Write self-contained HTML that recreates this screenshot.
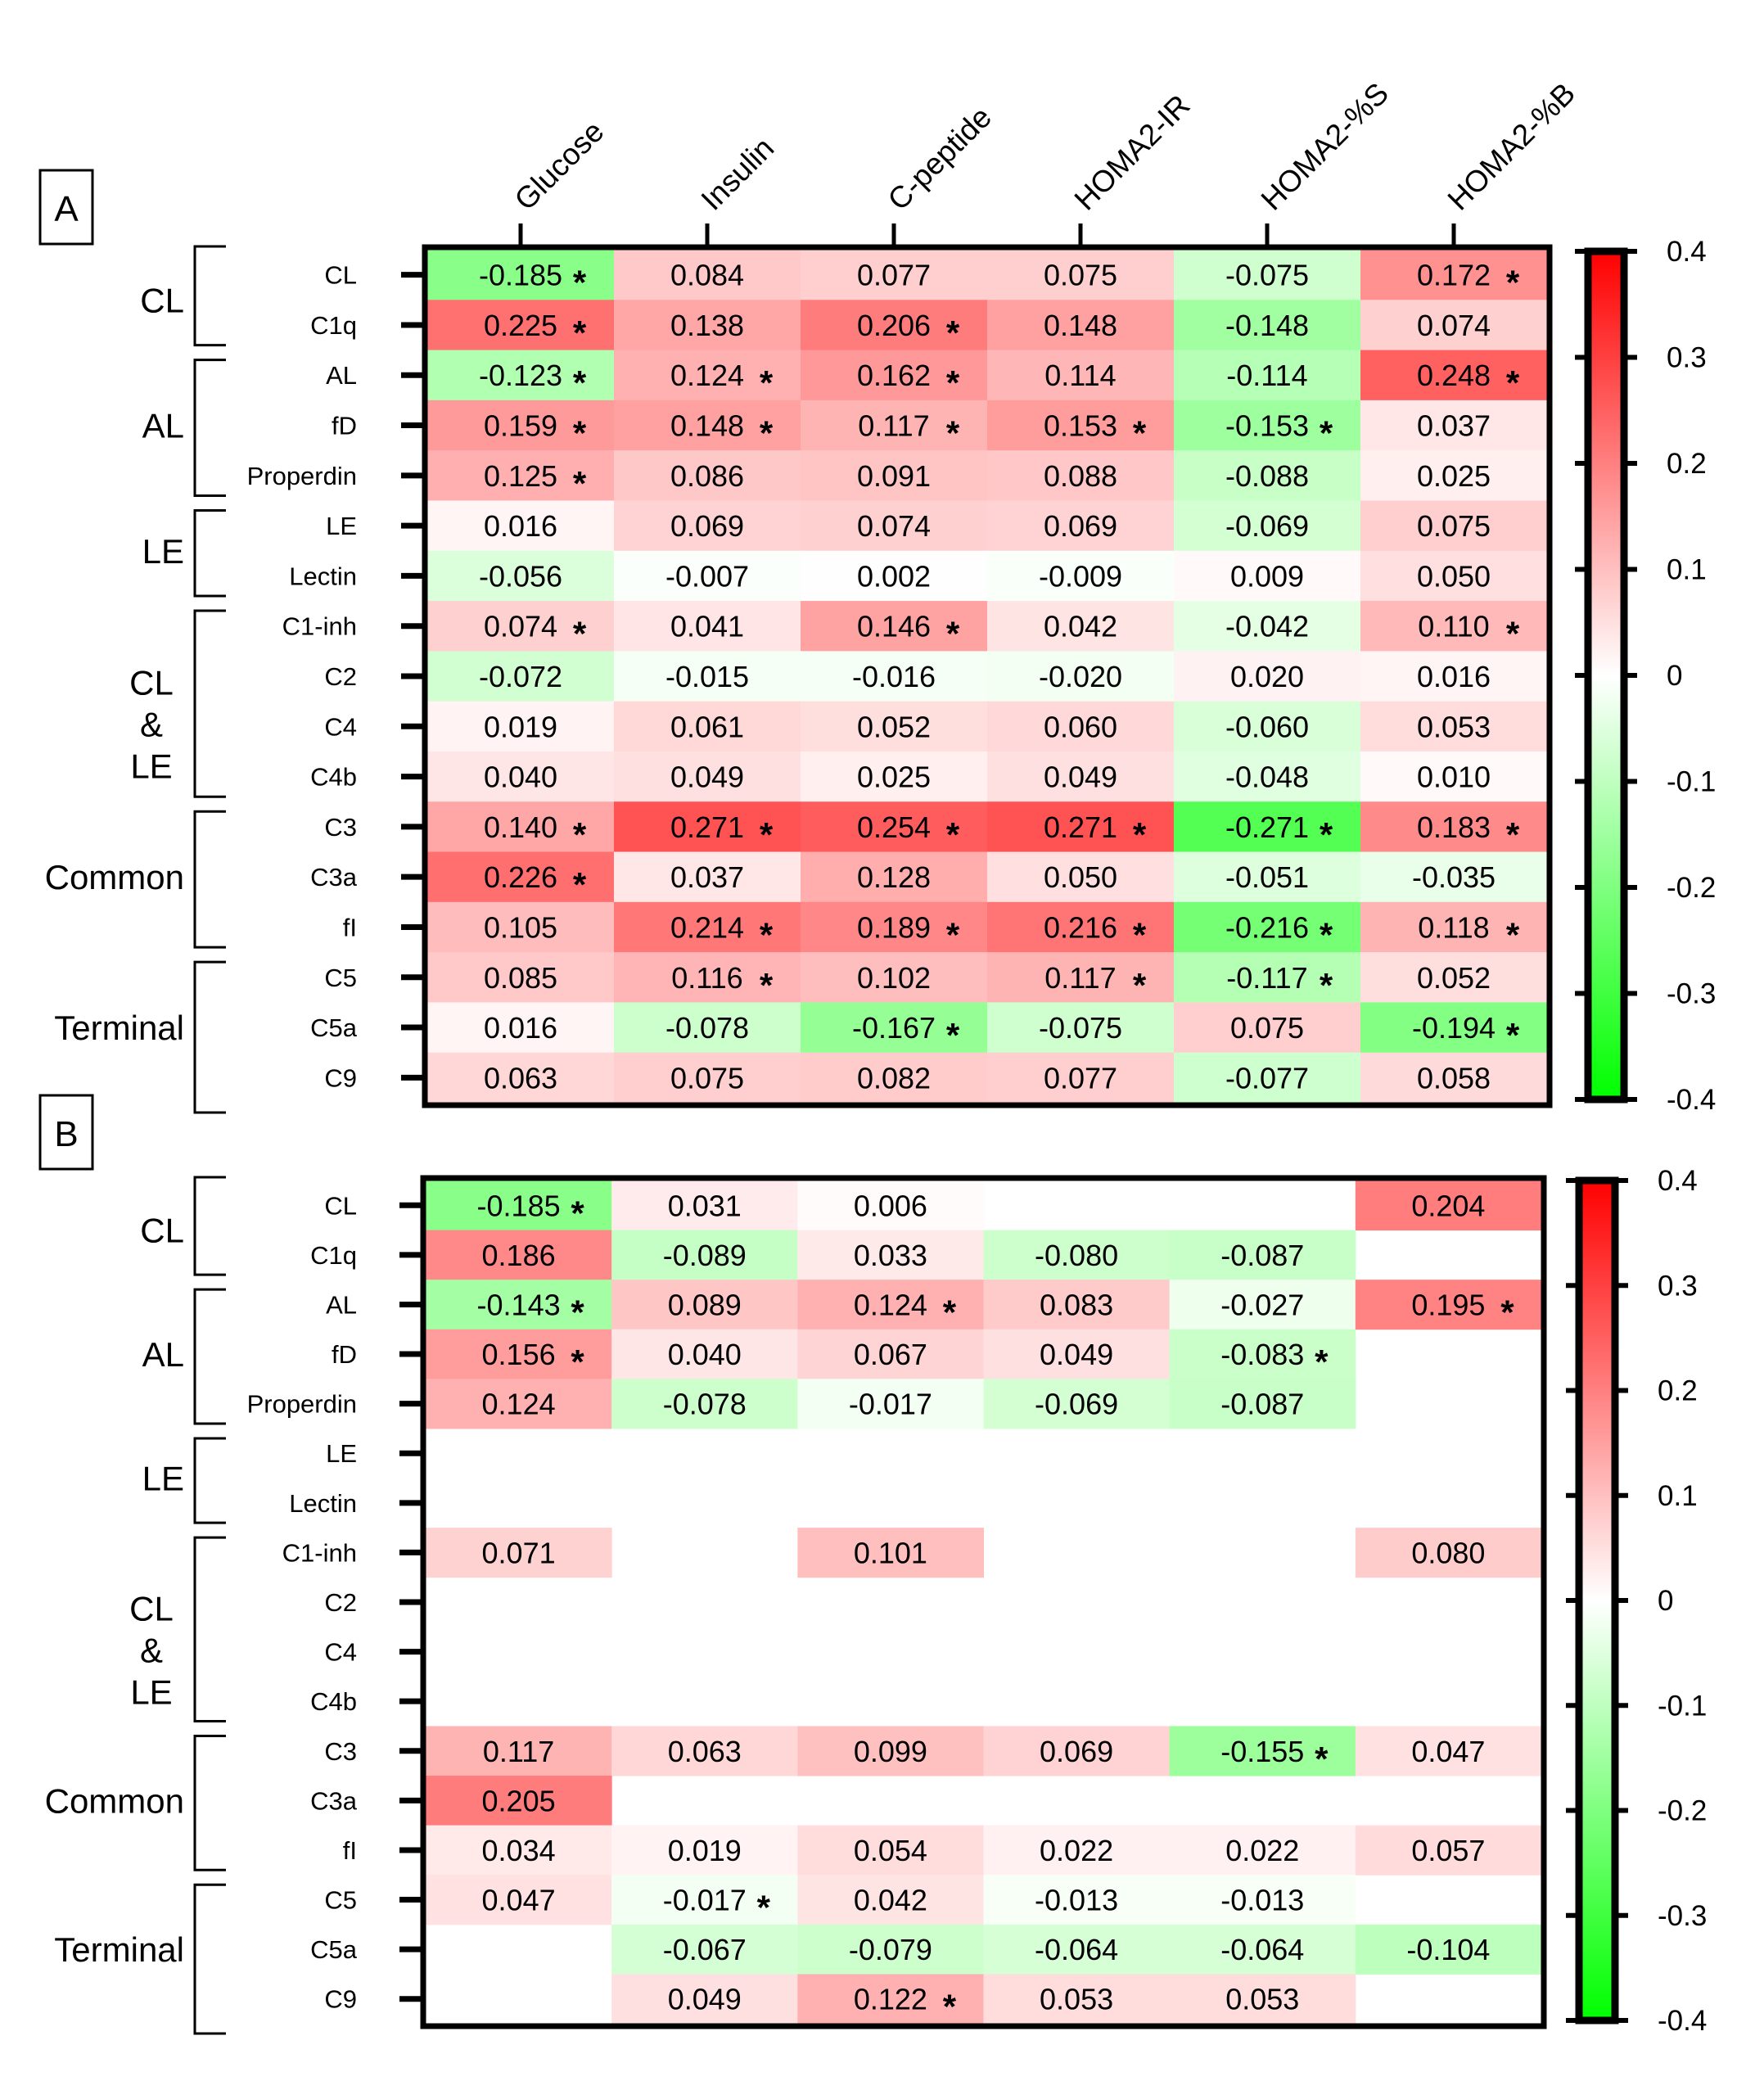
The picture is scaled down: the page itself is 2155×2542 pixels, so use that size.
<!DOCTYPE html>
<html><head><meta charset="utf-8"><style>
html,body{margin:0;padding:0;background:#fff}
svg{display:block;font-family:"Liberation Sans",Arial,sans-serif}
</style></head><body>
<svg id="chart" width="2155" height="2542" viewBox="0 0 2155 2542" xmlns="http://www.w3.org/2000/svg"></svg>
<script>
const columns = ["Glucose","Insulin","C-peptide","HOMA2-IR","HOMA2-%S","HOMA2-%B"];
const rowLabels = ["CL","C1q","AL","fD","Properdin","LE","Lectin","C1-inh","C2","C4","C4b","C3","C3a","fI","C5","C5a","C9"];
const groupNames = [["CL"],["AL"],["LE"],["CL","&","LE"],["Common"],["Terminal"]];
const groupStarts = [0,2,5,7,11,14];
const groupEnds = [1,4,6,10,13,16];
const colorTicks = [0.4,0.3,0.2,0.1,0,-0.1,-0.2,-0.3,-0.4];
const tickText = ["0.4","0.3","0.2","0.1","0","-0.1","-0.2","-0.3","-0.4"];
const valuesA = [
[-0.185,0.084,0.077,0.075,-0.075,0.172],
[0.225,0.138,0.206,0.148,-0.148,0.074],
[-0.123,0.124,0.162,0.114,-0.114,0.248],
[0.159,0.148,0.117,0.153,-0.153,0.037],
[0.125,0.086,0.091,0.088,-0.088,0.025],
[0.016,0.069,0.074,0.069,-0.069,0.075],
[-0.056,-0.007,0.002,-0.009,0.009,0.050],
[0.074,0.041,0.146,0.042,-0.042,0.110],
[-0.072,-0.015,-0.016,-0.020,0.020,0.016],
[0.019,0.061,0.052,0.060,-0.060,0.053],
[0.040,0.049,0.025,0.049,-0.048,0.010],
[0.140,0.271,0.254,0.271,-0.271,0.183],
[0.226,0.037,0.128,0.050,-0.051,-0.035],
[0.105,0.214,0.189,0.216,-0.216,0.118],
[0.085,0.116,0.102,0.117,-0.117,0.052],
[0.016,-0.078,-0.167,-0.075,0.075,-0.194],
[0.063,0.075,0.082,0.077,-0.077,0.058]];
const starsA = [
[1,0,0,0,0,1],[1,0,1,0,0,0],[1,1,1,0,0,1],[1,1,1,1,1,0],[1,0,0,0,0,0],
[0,0,0,0,0,0],[0,0,0,0,0,0],[1,0,1,0,0,1],[0,0,0,0,0,0],[0,0,0,0,0,0],[0,0,0,0,0,0],
[1,1,1,1,1,1],[1,0,0,0,0,0],[0,1,1,1,1,1],[0,1,0,1,1,0],[0,0,1,0,0,1],[0,0,0,0,0,0]];
const N = null;
const valuesB = [
[-0.185,0.031,0.006,N,N,0.204],
[0.186,-0.089,0.033,-0.080,-0.087,N],
[-0.143,0.089,0.124,0.083,-0.027,0.195],
[0.156,0.040,0.067,0.049,-0.083,N],
[0.124,-0.078,-0.017,-0.069,-0.087,N],
[N,N,N,N,N,N],[N,N,N,N,N,N],
[0.071,N,0.101,N,N,0.080],
[N,N,N,N,N,N],[N,N,N,N,N,N],[N,N,N,N,N,N],
[0.117,0.063,0.099,0.069,-0.155,0.047],
[0.205,N,N,N,N,N],
[0.034,0.019,0.054,0.022,0.022,0.057],
[0.047,-0.017,0.042,-0.013,-0.013,N],
[N,-0.067,-0.079,-0.064,-0.064,-0.104],
[N,0.049,0.122,0.053,0.053,N]];
const starsB = [
[1,0,0,0,0,0],[0,0,0,0,0,0],[1,0,1,0,0,1],[1,0,0,0,1,0],[0,0,0,0,0,0],
[0,0,0,0,0,0],[0,0,0,0,0,0],[0,0,0,0,0,0],[0,0,0,0,0,0],[0,0,0,0,0,0],[0,0,0,0,0,0],
[0,0,0,0,1,0],[0,0,0,0,0,0],[0,0,0,0,0,0],[0,1,0,0,0,0],[0,0,0,0,0,0],[0,0,1,0,0,0]];

const svg = document.getElementById('chart');
const NS = "http://www.w3.org/2000/svg";
function mk(tag, attrs, parent){const e=document.createElementNS(NS,tag);for(const k in attrs)e.setAttribute(k,attrs[k]);(parent||svg).appendChild(e);return e;}
function color(v){const t=Math.min(1,Math.abs(v)/0.4);const c=Math.round(255*(1-t));return v>=0?`rgb(255,${c},${c})`:`rgb(${c},255,${c})`;}

function panel(cfg, vals, stars, showCols, tag){
  const cw=(cfg.x1-cfg.x0)/6, rh=(cfg.y1-cfg.y0)/17;
  const xS=i=>cfg.x0+i*cw, yS=j=>cfg.y0+j*rh;
  const g=mk('g',{});
  
  
  for(let j=0;j<17;j++)for(let i=0;i<6;i++){
    const v=vals[j][i]; if(v===null) continue;
    const r=mk('rect',{x:xS(i),y:yS(j),width:cw+0.5,height:rh+0.5,fill:color(v)},g);
    
    
    const t=mk('text',{x:xS(i)+cw/2,y:yS(j)+rh/2+13,'text-anchor':'middle','font-size':36,fill:'#000'},g);
    t.textContent=v.toFixed(3);
    
    
    if(stars[j][i]){const s=mk('text',{x:xS(i)+cw/2+72,y:yS(j)+rh/2+24,'text-anchor':'middle','font-size':42,'font-weight':'bold',fill:'#000'},g);s.textContent='*';
      
      }
  }
  mk('rect',{x:cfg.x0-3,y:cfg.y0-3,width:cfg.x1-cfg.x0+6,height:cfg.y1-cfg.y0+6,fill:'none',stroke:'#000','stroke-width':7},g);
  for(let j=0;j<17;j++){
    const y=yS(j)+rh/2;
    mk('line',{x1:cfg.x0-32,x2:cfg.x0,y1:y,y2:y,stroke:'#000','stroke-width':7},g);
    const t=mk('text',{x:436,y:y+11,'text-anchor':'end','font-size':31},g);t.textContent=rowLabels[j];
    
    
  }
  for(let k=0;k<groupStarts.length;k++){
    const top=yS(groupStarts[k])+(k===0?-4:12), bot=yS(groupEnds[k]+1)-(k===5?-12:6);
    const p=mk('path',{d:`M276 ${top} H238 V${bot} H276`,fill:'none',stroke:'#000','stroke-width':3},g);
    
    
    const lines=groupNames[k];
    let mid=(yS(groupStarts[k])+yS(groupEnds[k]+1))/2;
    if(lines.length>1) mid+=28;
    const lh=51;
    lines.forEach((ln,li)=>{
      const yy=mid+15+(li-(lines.length-1)/2)*lh;
      const anchor=lines.length>1?'middle':'end';
      const xx=lines.length>1?185:225;
      const t=mk('text',{x:xx,y:yy,'text-anchor':anchor,'font-size':42},g);t.textContent=ln;
      
      
    });
  }
  if(showCols){
    for(let i=0;i<6;i++){
      const x=xS(i)+cw/2;
      mk('line',{x1:x,x2:x,y1:cfg.y0-32,y2:cfg.y0,stroke:'#000','stroke-width':5},g);
      const tx=x+8, ty=cfg.y0-46;
      const t=mk('text',{x:tx,y:ty,'font-size':37,transform:`rotate(-45 ${tx} ${ty})`},g);t.textContent=columns[i];
      
      
    }
  }
  const cb=cfg.cb, gid='grad'+tag;
  const defs=mk('defs',{},g);const lg=mk('linearGradient',{id:gid,x1:0,y1:0,x2:0,y2:1},defs);
  [['0','#ff0000'],['0.5','#ffffff'],['1','#00ff00']].forEach(s=>mk('stop',{offset:s[0],'stop-color':s[1]},lg));
  const bar=mk('rect',{x:cb.x0,y:cb.y0,width:cb.x1-cb.x0,height:cb.y1-cb.y0,fill:`url(#${gid})`,stroke:'#000','stroke-width':9},g);
  
  
  const cy=v=>cb.y0+(0.4-v)/0.8*(cb.y1-cb.y0);
  colorTicks.forEach((v,k)=>{
    const y=cy(v);
    mk('line',{x1:cb.x0-16,x2:cb.x0,y1:y,y2:y,stroke:'#000','stroke-width':6},g);
    mk('line',{x1:cb.x1,x2:cb.x1+16,y1:y,y2:y,stroke:'#000','stroke-width':6},g);
    const t=mk('text',{x:cb.x1+52,y:y+12,'font-size':35},g);t.textContent=tickText[k];
    
    
  });
  const L=cfg.letter;
  const b=mk('rect',{x:L.x,y:L.y,width:64,height:90,fill:'none',stroke:'#000','stroke-width':3},g);
  
  
  const lt=mk('text',{x:L.x+32,y:L.y+62,'text-anchor':'middle','font-size':44},g);lt.textContent=tag;
  
  
}
panel({x0:522,x1:1890,y0:305,y1:1347,cb:{x0:1940,x1:1984,y0:307,y1:1343},letter:{x:49,y:208}},valuesA,starsA,true,'A');
panel({x0:520,x1:1883,y0:1442,y1:2472,cb:{x0:1929,x1:1973,y0:1442,y1:2468},letter:{x:49,y:1338}},valuesB,starsB,false,'B');
</script>
</body></html>
